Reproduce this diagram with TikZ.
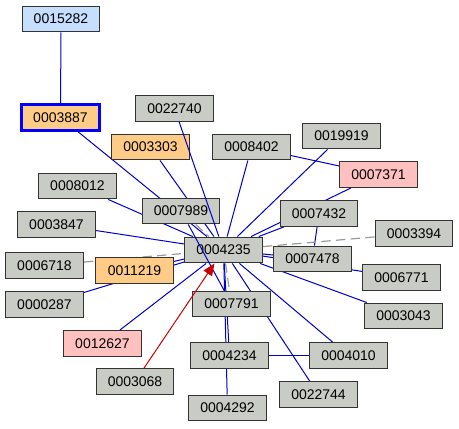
\documentclass[tikz,border=0pt]{standalone}
\usepackage{fontspec}
\setmainfont{Liberation Sans}
\usetikzlibrary{arrows.meta,backgrounds}
\definecolor{myGRAY}{HTML}{C9CBC5}
\definecolor{myORANGE}{HTML}{FFCC88}
\definecolor{myPINK}{HTML}{FFC0C0}
\definecolor{myLIGHTBLUE}{HTML}{C6DFFF}
\definecolor{myBLUE}{HTML}{0000CD}
\definecolor{myBRIGHTBLUE}{HTML}{0000FF}
\definecolor{myRED}{HTML}{CC0000}
\definecolor{myDASH}{HTML}{9A9A9A}

\begin{document}
\begin{tikzpicture}[x=0.75pt, y=-0.75pt, font=\fontsize{10.5pt}{12pt}\selectfont,
    idbox/.style={draw=black!80, line width=0.9pt, fill=myGRAY, minimum width=58.3pt, minimum height=19.3pt, inner sep=0pt},
    link/.style={draw=myBLUE, line width=0.75pt},
    dashlink/.style={draw=myDASH, line width=0.9pt, dash pattern=on 7pt off 4pt},
    citelink/.style={draw=myRED, line width=0.75pt, -{Triangle[length=9pt, width=7.5pt]}}]
    \useasboundingbox (0,0) rectangle (459,428);

    % Nodes
    \node[idbox, fill=myLIGHTBLUE] (id15282) at (61,19) {0015282};
    \node[idbox, fill=myORANGE, draw=myBRIGHTBLUE, line width=1.9pt] (id3887) at (60.5,117.5) {0003887};
    \node[idbox] (id22740) at (174.5,108.5) {0022740};
    \node[idbox, fill=myORANGE] (id3303) at (150.5,147) {0003303};
    \node[idbox] (id8402) at (251.5,147) {0008402};
    \node[idbox] (id19919) at (341.5,136) {0019919};
    \node[idbox, fill=myPINK] (id7371) at (378.5,174.5) {0007371};
    \node[idbox] (id8012) at (77.5,186) {0008012};
    \node[idbox] (id7989) at (181,211) {0007989};
    \node[idbox] (id7432) at (319,213.5) {0007432};
    \node[idbox] (id3847) at (56.5,224.5) {0003847};
    \node[idbox] (id4235) at (223.5,250) {0004235};
    \node[idbox] (id3394) at (414,233.5) {0003394};
    \node[idbox] (id7478) at (312.5,259) {0007478};
    \node[idbox] (id6718) at (44.5,265.5) {0006718};
    \node[idbox, fill=myORANGE] (id11219) at (134.5,270.5) {0011219};
    \node[idbox] (id6771) at (401.5,277.5) {0006771};
    \node[idbox] (id287) at (44.5,304.5) {0000287};
    \node[idbox] (id7791) at (231.5,304) {0007791};
    \node[idbox] (id3043) at (403.5,316) {0003043};
    \node[idbox, fill=myPINK] (id12627) at (102.5,343.5) {0012627};
    \node[idbox] (id4234) at (229.5,355.5) {0004234};
    \node[idbox] (id4010) at (348.5,355.5) {0004010};
    \node[idbox] (id3068) at (135,381.5) {0003068};
    \node[idbox] (id22744) at (318.5,394.5) {0022744};
    \node[idbox] (id4292) at (227.5,408) {0004292};

    % Links (behind the boxes)
    \begin{scope}[on background layer]
    \draw[link] (id15282) -- (id3887);
    \draw[link] (id3887) -- (id4235);
    \draw[link] (id3303) -- (id4235);
    \draw[link] (id8402) -- (id4235);
    \draw[link] (id8402) -- (id7371);
    \draw[link] (id19919) -- (id4235);
    \draw[link] (id7371) -- (id4235);
    \draw[link] (id7432) -- (id4235);
    \draw[link] (id7432) -- (id7478);
    \draw[link] (id7478) -- (id4235);
    \draw[link] (id6771) -- (id4235);
    \draw[link] (id3043) -- (id4235);
    \draw[link] (id4010) -- (id4235);
    \draw[link] (id22744) -- (id4235);
    \draw[link] (id4292) -- (id4235);
    \draw[link] (id4234) -- (id4235);
    \draw[link] (id4234) -- (id4010);
    \draw[link] (id12627) -- (id4235);
    \draw[link] (id287) -- (id4235);
    \draw[link] (id11219) -- (id4235);
    \draw[link] (id3847) -- (id4235);
    \draw[link] (id8012) -- (id4235);
    \draw[dashlink] (id6718) -- (id4235);
    \draw[dashlink] (id4235) -- (id3394);
    \draw[dashlink] (id7989) -- (id4235);
    \draw[dashlink] (id4235) -- (id7791);
    \end{scope}

    % Links on top
    \draw[link] (id22740) -- (id4235);
    \draw[link] (id7989) -- (id7791);
    \draw[citelink] (id3068) -- (id4235);
\end{tikzpicture}
\end{document}
